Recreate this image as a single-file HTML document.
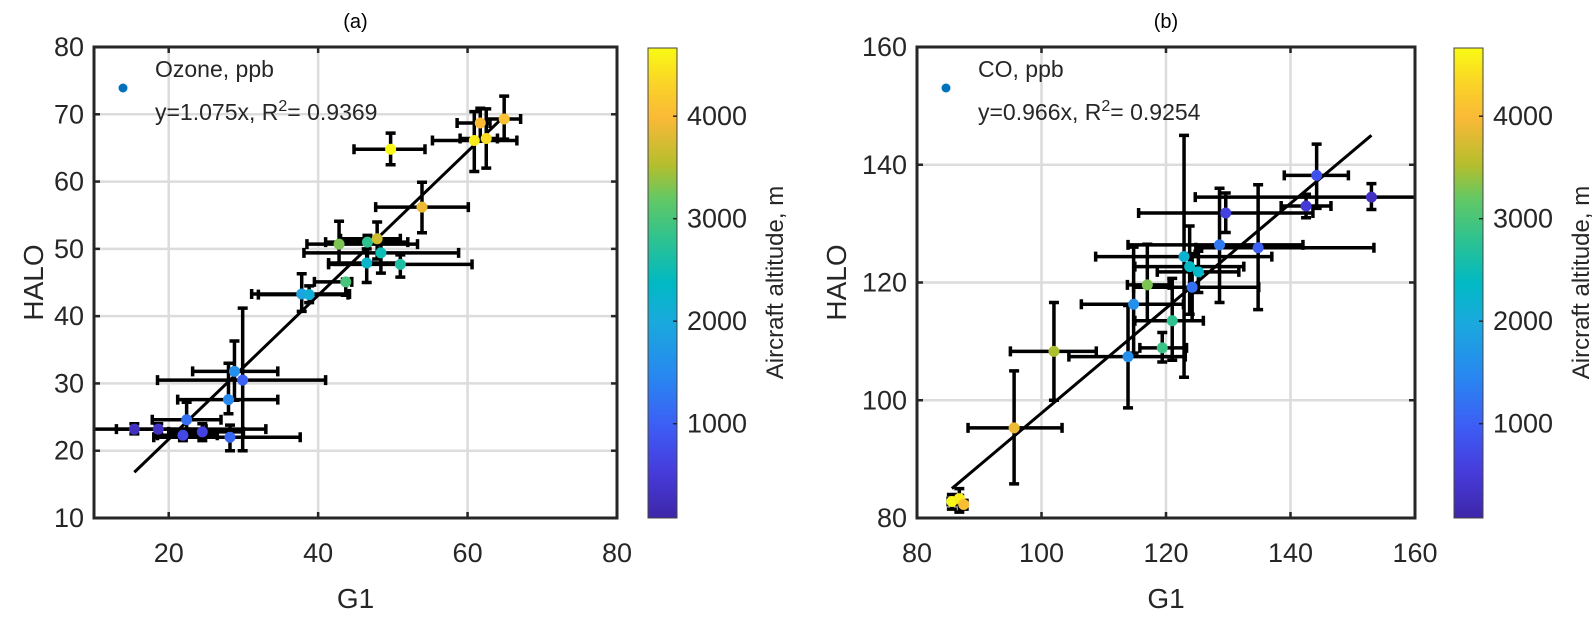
<!DOCTYPE html>
<html><head><meta charset="utf-8"><style>
html,body{margin:0;padding:0;background:#fff;}
svg{display:block;font-family:"Liberation Sans",Arial,sans-serif;}
</style></head><body>
<svg id="fig" width="1594" height="621" viewBox="0 0 1594 621">
<defs>
<clipPath id="clipA"><rect x="94" y="47" width="523" height="471"/></clipPath>
<clipPath id="clipB"><rect x="917" y="47" width="498" height="471"/></clipPath>
<linearGradient id="cbGrad" x1="0" y1="1" x2="0" y2="0">
<stop offset="0" stop-color="rgb(62,38,168)"/><stop offset="0.1" stop-color="rgb(70,60,220)"/>
<stop offset="0.2" stop-color="rgb(60,95,245)"/><stop offset="0.3" stop-color="rgb(40,135,240)"/>
<stop offset="0.42" stop-color="rgb(25,170,220)"/><stop offset="0.5" stop-color="rgb(0,185,195)"/>
<stop offset="0.6" stop-color="rgb(50,195,140)"/><stop offset="0.68" stop-color="rgb(100,200,100)"/>
<stop offset="0.75" stop-color="rgb(180,190,45)"/><stop offset="0.85" stop-color="rgb(250,185,55)"/>
<stop offset="0.92" stop-color="rgb(250,210,40)"/><stop offset="1" stop-color="rgb(249,250,20)"/>
</linearGradient>
</defs>
</svg>
<script>
// ---- Panel (a) data: Ozone ----
const aX=[15.4,18.6,21.9,24.5,28.2,22.4,28.0,28.8,29.9,37.8,38.8,43.7,42.8,46.6,47.9,48.4,46.5,51.0,53.9,49.7,61.7,60.9,62.5,64.9];
const aY=[23.2,23.2,22.3,22.8,22.0,24.6,27.6,31.8,30.5,43.3,43.2,45.1,50.7,51.0,51.5,49.4,47.9,47.7,56.2,64.8,68.7,66.1,66.4,69.3];
const aXlo=[8,13,18.5,20,18,17.8,21.2,23.2,18.5,31.1,32,39.5,38.5,41,43,38.1,41.4,41.4,47.7,44.8,58.6,55.3,59,62.5];
const aXhi=[33,25,26.5,30,37.6,27,34.6,34.6,41,44.2,44,44.5,53.3,52,51,58.8,51,60.6,60.1,54.3,63,66.6,64,67.1];
const aYlo=[22.5,22.5,21.5,21.5,20,23.2,25.5,27.5,20,40.7,42,43.1,47.7,48,48.5,46.4,45,45.8,52.4,62.5,66,61.5,62,66.3];
const aYhi=[24,24,23,24,23.8,27.2,33,36.3,41.2,46.3,44.5,45.5,54.1,52,54,51.3,50,49.1,59.9,67.2,70.9,70.4,70.8,72.7];
const aAlt=[300,350,700,600,1100,1200,1500,1600,1000,1900,2100,3000,3300,2800,3700,2500,2250,2650,3900,4650,4000,4550,4400,4100];
const aLineX=[15.4,64.8];
const aLineY=[16.8,69.6];
const aXTicks=[20,40,60,80];
const aYTicks=[10,20,30,40,50,60,70,80];
// ---- Panel (b) data: CO ----
const bX=[85.6,86.8,87.5,95.6,102,113.9,114.8,117,119.4,121,122.9,123.8,125.2,124.2,128.6,129.6,134.8,142.5,144.2,153];
const bY=[82.8,83.3,82.3,95.3,108.3,107.4,116.3,119.6,108.9,113.5,124.4,122.7,121.8,119.2,126.4,131.8,125.9,133,138.2,134.5];
const bXlo=[85,86.3,87,88.2,95,104.4,106.4,113.8,115.8,115,108.7,115,118.6,114.8,113.9,115.6,124.8,138.5,139,124.7];
const bXhi=[86.2,87.3,88,103.3,108.8,123.1,122.8,120.5,123.3,126,137,132.5,131.7,134.9,142,143.6,153.4,146.5,149.3,165];
const bYlo=[81.5,81,81.5,85.8,100,98.7,108,113.5,106.5,106.8,103.9,114.6,118.3,113.5,116.6,128.5,115.4,131,132.6,132.4];
const bYhi=[84,85,83,105,116.6,116.1,126,126.5,111.5,120.7,145,129.6,125.3,124.9,136,135.2,136.6,135,143.5,136.8];
const bAlt=[4650,4550,4050,3900,3500,1600,1600,3300,2900,2800,2200,2350,2300,1200,1300,600,1000,500,800,300];
const bLineX=[85.6,153];
const bLineY=[85,145];
const bXTicks=[80,100,120,140,160];
const bYTicks=[80,100,120,140,160];
const cbTicks=[1000,2000,3000,4000];
const altMin=80, altMax=4675;

const NS='http://www.w3.org/2000/svg';
const svg=document.getElementById('fig');
function mk(tag,attrs,parent){const e=document.createElementNS(NS,tag);for(const k in attrs)e.setAttribute(k,attrs[k]);(parent||svg).appendChild(e);return e;}
const stops=[[0,62,38,168],[0.1,70,60,220],[0.2,60,95,245],[0.3,40,135,240],[0.42,25,170,220],[0.5,0,185,195],[0.6,50,195,140],[0.68,100,200,100],[0.75,180,190,45],[0.85,250,185,55],[0.92,250,210,40],[1,249,250,20]];
function parula(v){let t=(v-altMin)/(altMax-altMin);t=Math.max(0,Math.min(1,t));
 for(let i=1;i<stops.length;i++){if(t<=stops[i][0]){const a=stops[i-1],b=stops[i],f=(t-a[0])/(b[0]-a[0]);
 return 'rgb('+[1,2,3].map(j=>Math.round(a[j]+(b[j]-a[j])*f)).join(',')+')';}}return 'rgb(249,250,20)';}

function panel(cfg){
 const {L,R,T,B,x0,x1,y0,y1,id}=cfg;
 const sx=v=>L+(v-x0)/(x1-x0)*(R-L), sy=v=>B-(v-y0)/(y1-y0)*(B-T);
 const g=mk('g',{});
 
 
 cfg.xt.forEach(v=>{if(v>x0&&v<x1){const l=mk('line',{x1:sx(v),x2:sx(v),y1:T,y2:B,stroke:'#dcdcdc','stroke-width':2.5},g);
 
 }});
 cfg.yt.forEach(v=>{if(v>y0&&v<y1){const l=mk('line',{x1:L,x2:R,y1:sy(v),y2:sy(v),stroke:'#dcdcdc','stroke-width':2.5},g);
 
 }});
 cfg.xt.forEach(v=>{const x=sx(v);
 mk('line',{x1:x,x2:x,y1:B,y2:B-6,stroke:'#262626','stroke-width':2.5},g);
 mk('line',{x1:x,x2:x,y1:T,y2:T+6,stroke:'#262626','stroke-width':2.5},g);
 const t=mk('text',{x:x,y:B+44,'text-anchor':'middle','font-size':27,fill:'#262626'},g);t.textContent=v;
 
 });
 cfg.yt.forEach(v=>{const y=sy(v);
 mk('line',{x1:L,x2:L+6,y1:y,y2:y,stroke:'#262626','stroke-width':2.5},g);
 mk('line',{x1:R,x2:R-6,y1:y,y2:y,stroke:'#262626','stroke-width':2.5},g);
 const t=mk('text',{x:L-10,y:y+9,'text-anchor':'end','font-size':27,fill:'#262626'},g);t.textContent=v;
 
 });
 const dg=mk('g',{'clip-path':'url(#'+cfg.clip+')'},g);
 
 
 const n=cfg.X.length;
 for(let i=0;i<n;i++){
  const x=sx(cfg.X[i]),y=sy(cfg.Y[i]),xl=sx(cfg.Xlo[i]),xh=sx(cfg.Xhi[i]),yl=sy(cfg.Ylo[i]),yh=sy(cfg.Yhi[i]);
  const eb=mk('path',{d:`M${xl},${y}H${xh}M${xl},${y-5}V${y+5}M${xh},${y-5}V${y+5}M${x},${yl}V${yh}M${x-5},${yl}H${x+5}M${x-5},${yh}H${x+5}`,stroke:'#000','stroke-width':3.5,fill:'none'},dg);
  
  
 }
 const ln=mk('line',{x1:sx(cfg.lx[0]),y1:sy(cfg.ly[0]),x2:sx(cfg.lx[1]),y2:sy(cfg.ly[1]),stroke:'#000','stroke-width':3},dg);
 
 
 for(let i=0;i<n;i++){
  const c=mk('circle',{cx:sx(cfg.X[i]),cy:sy(cfg.Y[i]),r:5.5,fill:parula(cfg.A[i])},dg);
  
  
 }
 const bx=mk('rect',{x:L,y:T,width:R-L,height:B-T,fill:'none',stroke:'#262626','stroke-width':3},g);
 
 
 let t=mk('text',{x:(L+R)/2,y:B+90,'text-anchor':'middle','font-size':28,fill:'#262626'},g);t.textContent='G1';
 
 
 t=mk('text',{x:cfg.yl,y:(T+B)/2,'text-anchor':'middle','font-size':28,fill:'#262626',transform:`rotate(-90 ${cfg.yl} ${(T+B)/2})`},g);t.textContent='HALO';
 
 
 t=mk('text',{x:(L+R)/2,y:28,'text-anchor':'middle','font-size':20,fill:'#000'},g);t.textContent=cfg.title;
 
 
 const lg=mk('g',{},g);
 
 
 mk('circle',{cx:L+29,cy:T+41,r:4.5,fill:'#0072bd'},lg);
 t=mk('text',{x:L+61,y:T+30,'font-size':23,fill:'#262626'},lg);t.textContent=cfg.leg1;
 
 
 t=mk('text',{x:L+61,y:T+73,'font-size':23,fill:'#262626'},lg);
 
 
 t.innerHTML=cfg.eq1+'R<tspan dy="-9" font-size="16">2</tspan><tspan dy="9">= '+cfg.r2+'</tspan>';
 const cb=mk('g',{},g);
 
 
 const cx=cfg.cbx,cw=29;
 mk('rect',{x:cx,y:T+1,width:cw,height:B-T-1,fill:'url(#cbGrad)',stroke:'#444','stroke-width':1},cb);
 const cy=v=>B-(v-altMin)/(altMax-altMin)*(B-T);
 cbTicks.forEach(v=>{mk('line',{x1:cx+cw-4,x2:cx+cw,y1:cy(v),y2:cy(v),stroke:'#262626','stroke-width':1.5},cb);
 const tt=mk('text',{x:cx+39,y:cy(v)+9,'font-size':27,fill:'#262626'},cb);tt.textContent=v;
 
 });
 const ax=cx+135;
 t=mk('text',{x:ax,y:(T+B)/2,'text-anchor':'middle','font-size':24,fill:'#262626',transform:`rotate(-90 ${ax} ${(T+B)/2})`},cb);t.textContent='Aircraft altitude, m';
 
 
}
panel({id:'a',L:94,R:617,T:47,B:518,x0:10,x1:80,y0:10,y1:80,xt:aXTicks,yt:aYTicks,X:aX,Y:aY,Xlo:aXlo,Xhi:aXhi,Ylo:aYlo,Yhi:aYhi,A:aAlt,lx:aLineX,ly:aLineY,clip:'clipA',yl:43,title:'(a)',leg1:'Ozone, ppb',eq1:'y=1.075x, ',r2:'0.9369',cbx:648});
panel({id:'b',L:917,R:1415,T:47,B:518,x0:80,x1:160,y0:80,y1:160,xt:bXTicks,yt:bYTicks,X:bX,Y:bY,Xlo:bXlo,Xhi:bXhi,Ylo:bYlo,Yhi:bYhi,A:bAlt,lx:bLineX,ly:bLineY,clip:'clipB',yl:846,title:'(b)',leg1:'CO, ppb',eq1:'y=0.966x, ',r2:'0.9254',cbx:1454});
</script>
</body></html>
